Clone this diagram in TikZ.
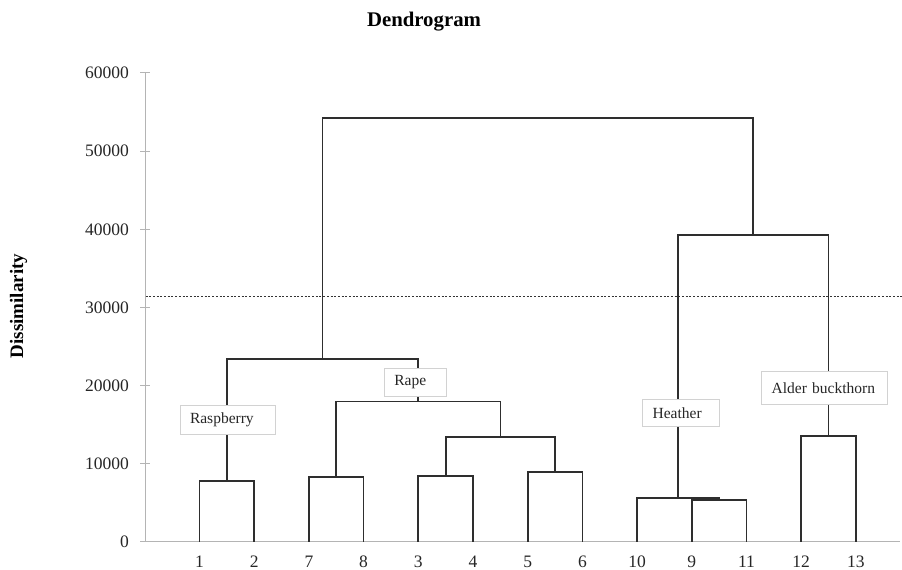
\documentclass[tikz,border=0pt]{standalone}
\usepackage{fontspec}
\setmainfont{Liberation Serif}
\definecolor{linec}{HTML}{2E2E2E}
\definecolor{axisc}{HTML}{B4B4B4}
\definecolor{boxc}{HTML}{D2D2D2}
\begin{document}
\begin{tikzpicture}[x=1pt,y=-1pt,
  dline/.style={draw=linec,line width=1.7pt,line join=miter},
  axisline/.style={draw=axisc,line width=1pt},
  ticklab/.style={anchor=east,inner sep=0pt,font=\fontsize{17.5}{20}\selectfont,text=black!85},
  leaflab/.style={inner sep=0pt,font=\fontsize{17.5}{20}\selectfont,text=black!85},
  lbox/.style={draw=boxc,fill=white,line width=1pt,align=left,inner xsep=10pt,inner ysep=0pt,
     font=\fontsize{15.5}{18}\selectfont,text=black!85},
  cutline/.style={draw=black!80,line width=1.2pt,dash pattern=on 2pt off 1.7pt}]
\useasboundingbox (0,0) rectangle (902,570);
% title
\node[font=\bfseries\fontsize{20.8}{24}\selectfont] (title) at (424,22) {Dendrogram};
\node[font=\bfseries\fontsize{19}{22}\selectfont,rotate=90] (ylab) at (18.5,306) {Dissimilarity};
% axes
\coordinate (ytop) at (145,72.7);
\coordinate (ybot) at (145,541.7);
\coordinate (xl) at (140,541.7);
\coordinate (xr) at (900,541.7);
\draw[axisline] (ytop) -- (ybot);
\draw[axisline] (xl) -- (xr);
\foreach \v/\y in {0/541.7,10000/463.6,20000/385.5,30000/307.4,40000/229.3,50000/151.2,60000/72.7}{
  \coordinate (tk\v) at (145,\y);
  \draw[axisline] ([xshift=-5pt]tk\v) -- ([xshift=5pt]tk\v);
  \node[ticklab] (tl\v) at (129,\y) {\v};
}
% leaves
\foreach \i/\lab in {1/1,2/2,3/7,4/8,5/3,6/4,7/5,8/6,9/10,10/9,11/11,12/12,13/13}{
  \coordinate (l\lab) at ({199.5+54.7*(\i-1)},541.7);
  \node[leaflab] (t\lab) at ({199.5+54.7*(\i-1)},561.5) {\lab};
}
% merge points
\coordinate (m12) at (226.85,481);
\coordinate (m78) at (336.25,477.3);
\coordinate (m34) at (445.65,476);
\coordinate (m56) at (555.05,472.3);
\coordinate (m3456) at (500.35,437.3);
\coordinate (mRape) at (418.3,401.5);
\coordinate (mRasp) at (322.6,359.3);
\coordinate (m911) at (719.15,500);
\coordinate (mH) at (678.1,498.3);
\coordinate (m1213) at (828.55,435.7);
\coordinate (mHA) at (753.3,235);
\coordinate (root) at (537.95,118.3);
% cut line
\coordinate (cutl) at (145.5,296.3);
\coordinate (cutr) at (902,296.3);
\draw[cutline] (cutl) -- (cutr);
% dendrogram
\draw[dline] (l1) |- (m12) -| (l2);
\draw[dline] (l7) |- (m78) -| (l8);
\draw[dline] (l3) |- (m34) -| (l4);
\draw[dline] (l5) |- (m56) -| (l6);
\draw[dline] (m34) |- (m3456) -| (m56);
\draw[dline] (m78) |- (mRape) -| (m3456);
\draw[dline] (m12) |- (mRasp) -| (mRape);
\draw[dline] (l9) |- (m911) -| (l11);
\draw[dline] (l10) |- (mH) -| (m911);
\draw[dline] (l12) |- (m1213) -| (l13);
\draw[dline] (mH) |- (mHA) -| (m1213);
\draw[dline] (mRasp) |- (root) -| (mHA);
% label boxes
\node[lbox,text width=75pt,minimum height=29pt] (rasp) at (227.5,419.5) {Raspberry};
\node[lbox,text width=41.7pt,minimum height=28.4pt] (rape) at (415.2,382.5) {Rape};
\node[lbox,text width=57.3pt,minimum height=27.4pt] (heath) at (681.3,413) {Heather};
\node[lbox,text width=105.6pt,minimum height=32.6pt] (alder) at (824.5,388) {Alder buckthorn};
\end{tikzpicture}
\end{document}
